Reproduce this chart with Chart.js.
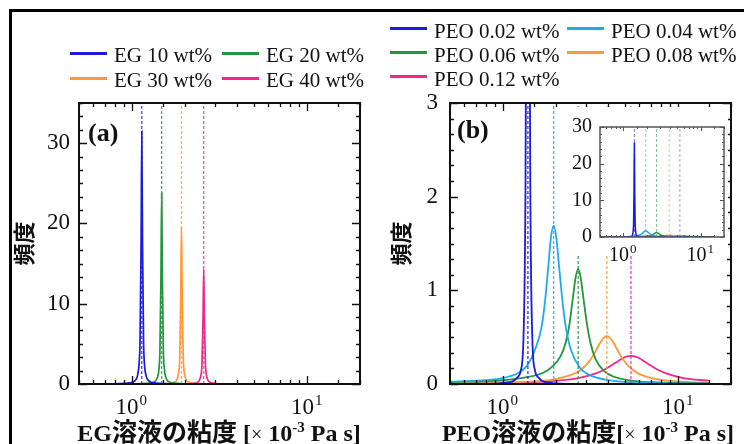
<!DOCTYPE html>
<html>
<head>
<meta charset="utf-8">
<script src="https://cdn.jsdelivr.net/npm/chart.js@4.4.1/dist/chart.umd.min.js"></script>
<style>
  body { margin: 0; background: #fff; }
  #wrap { position: relative; width: 744px; height: 444px; overflow: hidden; background: #fff;
          font-family: "Liberation Serif", "Noto Sans CJK JP", serif; color: #111; }
  canvas { position: absolute; }
  #frame { position: absolute; left: 9px; top: 9px; width: 800px; height: 500px;
           border-left: 3px solid #000; border-top: 3px solid #000; }
  .leg { position: absolute; font-size: 21px; line-height: 21px; white-space: nowrap; }
  .legline { position: absolute; width: 37px; height: 3px; }
  .xt { position: absolute; top: 413px; font-weight: bold; font-size: 24px; line-height: 28px;
        white-space: nowrap; transform: translateX(-50%); }
  .xt .cj { font-family: "Noto Sans CJK JP"; font-size: 25px; }
  .xt .tm { font-weight: normal; font-size: 20px; }
  .xt sup { font-size: 15px; }
  .pl { position: absolute; font-weight: bold; font-size: 26px; line-height: 26px; }
</style>
</head>
<body>
<div id="wrap">
  <div id="frame"></div>
  <canvas id="chartA" width="372" height="444" style="left:0;top:0"></canvas>
  <canvas id="chartB" width="372" height="444" style="left:372px;top:0"></canvas>
  <canvas id="chartInset" width="166" height="160" style="left:565px;top:107px"></canvas>
  <div id="legA"></div>
  <div id="legB"></div>
  <div class="pl" style="left:88px;top:120px">(a)</div>
  <div class="pl" style="left:457px;top:117px">(b)</div>
  <div class="xt" style="left:219px">EG<span class="cj">溶液の粘度</span> [<span class="tm">×</span> 10<sup>-3</sup> Pa s]</div>
  <div class="xt" style="left:588px">PEO<span class="cj">溶液の粘度</span>[<span class="tm">×</span> 10<sup>-3</sup> Pa s]</div>
</div>
<script>
// ---- data ----
const egLabels = ['EG 10 wt%', 'EG 20 wt%', 'EG 30 wt%', 'EG 40 wt%'];
const egColors = ['#1a1ae0', '#23963e', '#ff9838', '#f0288c'];
const egPeaks = [1.14, 1.48, 1.92, 2.57];

const eg10X = [0.807, 0.970, 1.040, 1.076, 1.101, 1.114, 1.130, 1.14, 1.151, 1.167, 1.180, 1.208, 1.250, 1.339, 1.610];
const eg10Y = [0.03, 0.13, 0.39, 0.98, 2.6, 5.3, 17.6, 31.5, 17.6, 5.3, 2.6, 0.98, 0.39, 0.13, 0.03];
const eg20X = [1.048, 1.260, 1.350, 1.397, 1.430, 1.446, 1.466, 1.48, 1.494, 1.514, 1.532, 1.568, 1.623, 1.739, 2.091];
const eg20Y = [0.02, 0.10, 0.30, 0.74, 1.98, 4.0, 13.3, 23.8, 13.3, 4.0, 1.98, 0.74, 0.30, 0.10, 0.02];
const eg30X = [1.359, 1.634, 1.751, 1.813, 1.855, 1.876, 1.902, 1.92, 1.938, 1.965, 1.987, 2.034, 2.105, 2.256, 2.712];
const eg30Y = [0.02, 0.08, 0.24, 0.60, 1.62, 3.28, 10.9, 19.5, 10.9, 3.28, 1.62, 0.60, 0.24, 0.08, 0.02];
const eg40X = [1.819, 2.187, 2.344, 2.426, 2.483, 2.511, 2.546, 2.57, 2.594, 2.630, 2.660, 2.722, 2.818, 3.019, 3.630];
const eg40Y = [0.01, 0.06, 0.18, 0.45, 1.19, 2.40, 8.0, 14.3, 8.0, 2.40, 1.19, 0.45, 0.18, 0.06, 0.01];

const peoLabels = ['PEO 0.02 wt%', 'PEO 0.04 wt%', 'PEO 0.06 wt%', 'PEO 0.08 wt%', 'PEO 0.12 wt%'];
const peoColors = ['#1a1ae0', '#1cacec', '#23963e', '#ff9838', '#f0288c'];
const peoPeaks = [1.39, 1.95, 2.69, 3.92, 5.38];

const peo02X = [0.5, 0.697, 1.104, 1.211, 1.268, 1.312, 1.343, 1.359, 1.374, 1.39, 1.406, 1.422, 1.439, 1.473, 1.524, 1.596, 1.75, 2.77, 15];
const peo02Y = [0, 0, 0.02, 0.07, 0.15, 0.5, 1.8, 4.0, 12, 25.7, 12, 4.0, 1.8, 0.5, 0.15, 0.07, 0.02, 0, 0];
const peo04X = [0.5, 0.98, 1.23, 1.38, 1.55, 1.66, 1.74, 1.82, 1.88, 1.95, 2.02, 2.09, 2.19, 2.29, 2.45, 2.76, 3.09, 3.89, 6.17, 15];
const peo04Y = [0.025, 0.06, 0.12, 0.2, 0.40, 0.6, 0.88, 1.27, 1.56, 1.69, 1.56, 1.27, 0.88, 0.6, 0.36, 0.17, 0.1, 0.045, 0.015, 0.004];
const peo06X = [0.5, 1.0, 1.35, 1.70, 1.90, 2.14, 2.29, 2.40, 2.51, 2.60, 2.69, 2.78, 2.88, 3.02, 3.16, 3.39, 3.80, 4.26, 5.37, 8.51, 15];
const peo06Y = [0.02, 0.04, 0.07, 0.12, 0.18, 0.3, 0.45, 0.64, 0.92, 1.135, 1.23, 1.135, 0.92, 0.64, 0.44, 0.26, 0.135, 0.08, 0.037, 0.014, 0.006];
const peo08X = [0.5, 1.24, 1.96, 2.47, 2.78, 3.11, 3.34, 3.49, 3.66, 3.79, 3.92, 4.06, 4.20, 4.40, 4.61, 4.94, 5.54, 6.21, 7.82, 12.4, 15];
const peo08Y = [0.012, 0.02, 0.05, 0.1, 0.15, 0.242, 0.33, 0.40, 0.464, 0.498, 0.51, 0.498, 0.464, 0.40, 0.33, 0.242, 0.146, 0.094, 0.046, 0.018, 0.012];
const peo12X = [0.5, 1.07, 1.70, 2.70, 3.39, 3.81, 4.27, 4.58, 4.79, 5.02, 5.38, 5.77, 6.04, 6.32, 6.77, 7.60, 8.53, 10.7, 15];
const peo12Y = [0.008, 0.014, 0.026, 0.063, 0.113, 0.155, 0.212, 0.249, 0.272, 0.289, 0.30, 0.289, 0.272, 0.249, 0.212, 0.155, 0.113, 0.063, 0.035];

const egSeries = [[eg10X, eg10Y], [eg20X, eg20Y], [eg30X, eg30Y], [eg40X, eg40Y]];
const peoSeries = [[peo02X, peo02Y], [peo04X, peo04Y], [peo06X, peo06Y], [peo08X, peo08Y], [peo12X, peo12Y]];

// ---- plugin: frame, inward ticks on all sides, 10^n labels ----
function isPow10(v) {
  const l = Math.log10(v);
  return Math.abs(l - Math.round(l)) < 1e-6;
}

const axesDeco = {
  id: 'axesDeco',
  beforeDraw(chart, args, o) {
    if (o.whiteW) {
      chart.ctx.save();
      chart.ctx.fillStyle = '#fff';
      chart.ctx.fillRect(0, 0, o.whiteW, o.whiteH);
      chart.ctx.restore();
    }
  },
  afterDraw(chart, args, o) {
    const { ctx, chartArea: a, scales: { x, y } } = chart;
    ctx.save();
    ctx.strokeStyle = o.frameColor;
    ctx.lineWidth = o.tickWidth;
    ctx.beginPath();
    x.ticks.forEach(t => {
      const px = Math.round(x.getPixelForValue(t.value)) + 0.5;
      const len = isPow10(t.value) ? o.major : o.minor;
      ctx.moveTo(px, a.bottom); ctx.lineTo(px, a.bottom - len);
      ctx.moveTo(px, a.top); ctx.lineTo(px, a.top + len);
    });
    const step = y.ticks[1].value - y.ticks[0].value;
    const sub = step / o.subdiv;
    for (let k = 0; y.min + k * sub <= y.max + 1e-9; k++) {
      const py = Math.round(y.getPixelForValue(y.min + k * sub)) + 0.5;
      const len = k % o.subdiv === 0 ? o.major : o.minor;
      ctx.moveTo(a.left, py); ctx.lineTo(a.left + len, py);
      ctx.moveTo(a.right, py); ctx.lineTo(a.right - len, py);
    }
    ctx.stroke();
    ctx.lineWidth = o.frameWidth;
    ctx.strokeRect(a.left, a.top, a.right - a.left, a.bottom - a.top);

    ctx.fillStyle = '#111';
    ctx.textBaseline = 'alphabetic';
    ctx.textAlign = 'left';
    x.ticks.filter(t => isPow10(t.value)).forEach(t => {
      const px = x.getPixelForValue(t.value);
      const e = String(Math.round(Math.log10(t.value)));
      ctx.font = o.labelFont;
      const w1 = ctx.measureText('10').width;
      ctx.font = o.supFont;
      const w2 = ctx.measureText(e).width;
      const x0 = px - (w1 + w2) / 2 - 1;
      ctx.font = o.labelFont;
      ctx.fillText('10', x0, a.bottom + o.labelDy);
      ctx.font = o.supFont;
      ctx.fillText(e, x0 + w1 + 1, a.bottom + o.labelDy - o.supRaise);
    });
    ctx.restore();
  }
};

function curveSets(series, colors, width) {
  return series.map(([xs, ys], i) => ({
    data: xs.map((v, j) => ({ x: v, y: ys[j] })),
    borderColor: colors[i],
    borderWidth: width,
    pointRadius: 0,
    cubicInterpolationMode: 'monotone',
    fill: false
  }));
}

function peakLines(peaks, colors, yMax, width, alpha) {
  return peaks.map((p, i) => ({
    data: [{ x: p, y: 0 }, { x: p, y: yMax }],
    borderColor: colors[i] + alpha,
    borderWidth: width,
    borderDash: [3, 2],
    pointRadius: 0
  }));
}

function options(cfg) {
  return {
    responsive: false,
    animation: false,
    events: [],
    layout: { padding: cfg.pad },
    plugins: {
      legend: { display: false },
      tooltip: { enabled: false },
      axesDeco: cfg.deco
    },
    scales: {
      x: {
        type: 'logarithmic', min: 0.5, max: 20,
        ticks: { display: false, autoSkip: false },
        grid: { display: false, drawTicks: false },
        border: { display: false },
        afterFit: s => { s.height = 0; }
      },
      y: {
        min: 0, max: cfg.yMax,
        ticks: { stepSize: cfg.yStep, includeBounds: false, padding: cfg.tickPad, color: '#111',
                 font: { family: 'Liberation Serif', size: cfg.tickSize } },
        grid: { display: false, drawTicks: false },
        border: { display: false },
        title: { display: cfg.title, text: '頻度', color: '#111', padding: 0,
                 font: { family: 'Noto Sans CJK JP', size: 22, weight: 'bold' } },
        afterFit: s => { s.width = cfg.yWidth; }
      }
    }
  };
}

const mainDeco = { frameColor: '#111', frameWidth: 2, tickWidth: 1.3, major: 8, minor: 4, subdiv: 6,
                   labelFont: '23px "Liberation Serif"', supFont: '15px "Liberation Serif"', labelDy: 30, supRaise: 9 };

new Chart(document.getElementById('chartA'), {
  type: 'line',
  data: { datasets: [...peakLines(egPeaks, egColors, 35, 1.3, 'cc'), ...curveSets(egSeries, egColors, 1.7)] },
  options: options({ pad: { left: 10, top: 103, right: 12, bottom: 60 }, yMax: 35, yStep: 10, tickPad: 9,
                     tickSize: 23, yWidth: 69, title: true, deco: mainDeco }),
  plugins: [axesDeco]
});

new Chart(document.getElementById('chartB'), {
  type: 'line',
  data: { datasets: [...peakLines(peoPeaks, peoColors, 3, 1.3, 'dd'), ...curveSets(peoSeries, peoColors, 1.8)] },
  options: options({ pad: { left: 15, top: 103, right: 13, bottom: 60 }, yMax: 3, yStep: 1, tickPad: 12,
                     tickSize: 23, yWidth: 63, title: true, deco: mainDeco }),
  plugins: [axesDeco]
});

new Chart(document.getElementById('chartInset'), {
  type: 'line',
  data: { datasets: [...peakLines(peoPeaks, peoColors, 30, 0.9, 'aa'), ...curveSets(peoSeries, peoColors, 1.5)] },
  options: options({ pad: { left: 0, top: 5, right: 7, bottom: 30 }, yMax: 30, yStep: 10, tickPad: 8,
                     tickSize: 20, yWidth: 35, title: false,
                     deco: { frameColor: '#555', frameWidth: 1.5, tickWidth: 1, major: 4, minor: 2, subdiv: 5,
                             labelFont: '20px "Liberation Serif"', supFont: '13px "Liberation Serif"',
                             labelDy: 24, supRaise: 8, whiteW: 163, whiteH: 147 } }),
  plugins: [axesDeco]
});

// ---- legends ----
function buildLegend(id, labels, colors, colX, rowY) {
  const box = document.getElementById(id);
  labels.forEach((name, i) => {
    const cx = colX[i % colX.length];
    const cy = rowY[Math.floor(i / colX.length)];
    const line = document.createElement('div');
    line.className = 'legline';
    line.style.left = cx + 'px';
    line.style.top = (cy - 4) + 'px';
    line.style.background = colors[i];
    box.appendChild(line);
    const txt = document.createElement('div');
    txt.className = 'leg';
    txt.style.left = (cx + 44) + 'px';
    txt.style.top = (cy - 10.5) + 'px';
    txt.textContent = name;
    box.appendChild(txt);
  });
}
buildLegend('legA', egLabels, egColors, [70, 222], [55.5, 80.5]);
buildLegend('legB', peoLabels, peoColors, [390, 567], [31, 55, 79]);
</script>
</body>
</html>
